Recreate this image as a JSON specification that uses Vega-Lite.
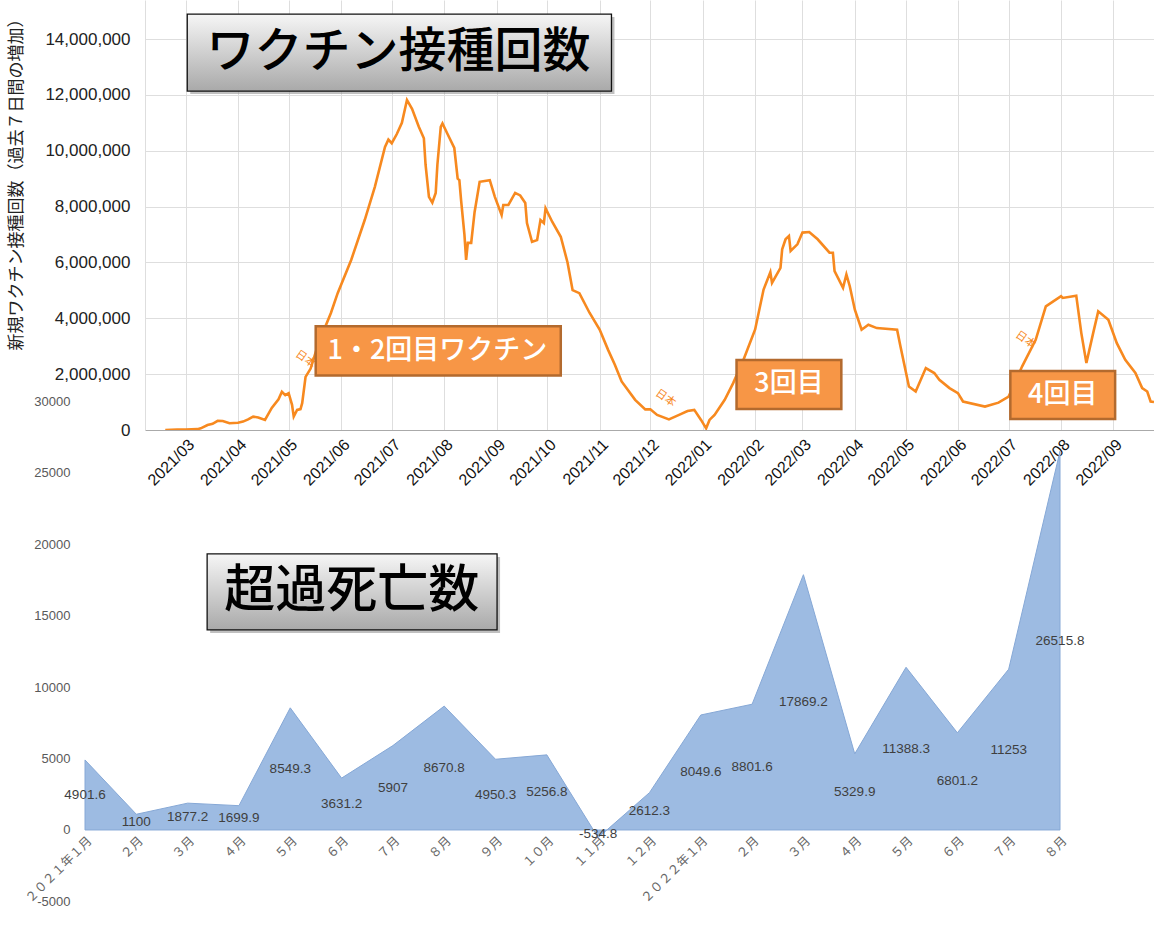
{
  "$schema": "https://vega.github.io/schema/vega-lite/v6.json",
  "background": "white",
  "padding": {"left": 7, "top": 0, "right": 0, "bottom": 0},
  "config": {
    "view": {"stroke": null},
    "font": "Liberation Sans, Noto Sans CJK JP, sans-serif"
  },
  "datasets": {
    "vaccine": [
      {"date": "2021-02-17", "doses": 0},
      {"date": "2021-02-24", "doses": 20000},
      {"date": "2021-03-01", "doses": 20000},
      {"date": "2021-03-08", "doses": 30000},
      {"date": "2021-03-10", "doses": 60000},
      {"date": "2021-03-14", "doses": 180000},
      {"date": "2021-03-17", "doses": 220000},
      {"date": "2021-03-20", "doses": 330000},
      {"date": "2021-03-23", "doses": 320000},
      {"date": "2021-03-27", "doses": 240000},
      {"date": "2021-04-01", "doses": 260000},
      {"date": "2021-04-04", "doses": 300000},
      {"date": "2021-04-07", "doses": 380000},
      {"date": "2021-04-10", "doses": 480000},
      {"date": "2021-04-13", "doses": 450000},
      {"date": "2021-04-17", "doses": 360000},
      {"date": "2021-04-21", "doses": 790000},
      {"date": "2021-04-25", "doses": 1100000},
      {"date": "2021-04-27", "doses": 1370000},
      {"date": "2021-04-29", "doses": 1250000},
      {"date": "2021-05-01", "doses": 1320000},
      {"date": "2021-05-03", "doses": 900000},
      {"date": "2021-05-04", "doses": 480000},
      {"date": "2021-05-06", "doses": 720000},
      {"date": "2021-05-08", "doses": 750000},
      {"date": "2021-05-09", "doses": 960000},
      {"date": "2021-05-11", "doses": 1900000},
      {"date": "2021-05-14", "doses": 2200000},
      {"date": "2021-05-18", "doses": 2980000},
      {"date": "2021-05-22", "doses": 3600000},
      {"date": "2021-05-26", "doses": 4190000},
      {"date": "2021-05-30", "doses": 4900000},
      {"date": "2021-06-07", "doses": 6090000},
      {"date": "2021-06-15", "doses": 7520000},
      {"date": "2021-06-21", "doses": 8710000},
      {"date": "2021-06-27", "doses": 10140000},
      {"date": "2021-06-29", "doses": 10400000},
      {"date": "2021-07-01", "doses": 10270000},
      {"date": "2021-07-04", "doses": 10600000},
      {"date": "2021-07-07", "doses": 11000000},
      {"date": "2021-07-10", "doses": 11820000},
      {"date": "2021-07-13", "doses": 11500000},
      {"date": "2021-07-17", "doses": 10860000},
      {"date": "2021-07-20", "doses": 10450000},
      {"date": "2021-07-21", "doses": 9500000},
      {"date": "2021-07-23", "doses": 8350000},
      {"date": "2021-07-25", "doses": 8140000},
      {"date": "2021-07-27", "doses": 8490000},
      {"date": "2021-07-28", "doses": 9500000},
      {"date": "2021-07-30", "doses": 10860000},
      {"date": "2021-07-31", "doses": 10980000},
      {"date": "2021-08-03", "doses": 10600000},
      {"date": "2021-08-07", "doses": 10100000},
      {"date": "2021-08-09", "doses": 9000000},
      {"date": "2021-08-10", "doses": 8950000},
      {"date": "2021-08-11", "doses": 8240000},
      {"date": "2021-08-13", "doses": 7000000},
      {"date": "2021-08-14", "doses": 6090000},
      {"date": "2021-08-15", "doses": 6700000},
      {"date": "2021-08-17", "doses": 6700000},
      {"date": "2021-08-19", "doses": 7800000},
      {"date": "2021-08-22", "doses": 8890000},
      {"date": "2021-08-25", "doses": 8920000},
      {"date": "2021-08-28", "doses": 8950000},
      {"date": "2021-08-31", "doses": 8350000},
      {"date": "2021-09-04", "doses": 7700000},
      {"date": "2021-09-05", "doses": 8060000},
      {"date": "2021-09-08", "doses": 8060000},
      {"date": "2021-09-12", "doses": 8490000},
      {"date": "2021-09-15", "doses": 8400000},
      {"date": "2021-09-18", "doses": 8130000},
      {"date": "2021-09-19", "doses": 7410000},
      {"date": "2021-09-22", "doses": 6740000},
      {"date": "2021-09-25", "doses": 6800000},
      {"date": "2021-09-27", "doses": 7520000},
      {"date": "2021-09-29", "doses": 7410000},
      {"date": "2021-09-30", "doses": 7940000},
      {"date": "2021-10-04", "doses": 7450000},
      {"date": "2021-10-09", "doses": 6920000},
      {"date": "2021-10-13", "doses": 6000000},
      {"date": "2021-10-16", "doses": 5010000},
      {"date": "2021-10-20", "doses": 4900000},
      {"date": "2021-10-26", "doses": 4200000},
      {"date": "2021-11-01", "doses": 3600000},
      {"date": "2021-11-06", "doses": 2870000},
      {"date": "2021-11-10", "doses": 2340000},
      {"date": "2021-11-14", "doses": 1740000},
      {"date": "2021-11-22", "doses": 1080000},
      {"date": "2021-11-28", "doses": 740000},
      {"date": "2021-12-01", "doses": 740000},
      {"date": "2021-12-05", "doses": 540000},
      {"date": "2021-12-12", "doses": 380000},
      {"date": "2021-12-18", "doses": 540000},
      {"date": "2021-12-23", "doses": 680000},
      {"date": "2021-12-27", "doses": 720000},
      {"date": "2021-12-31", "doses": 360000},
      {"date": "2022-01-03", "doses": 60000},
      {"date": "2022-01-05", "doses": 360000},
      {"date": "2022-01-08", "doses": 540000},
      {"date": "2022-01-14", "doses": 1080000},
      {"date": "2022-01-19", "doses": 1680000},
      {"date": "2022-01-25", "doses": 2500000},
      {"date": "2022-02-01", "doses": 3600000},
      {"date": "2022-02-06", "doses": 5030000},
      {"date": "2022-02-10", "doses": 5650000},
      {"date": "2022-02-11", "doses": 5270000},
      {"date": "2022-02-16", "doses": 5810000},
      {"date": "2022-02-17", "doses": 6470000},
      {"date": "2022-02-19", "doses": 6830000},
      {"date": "2022-02-21", "doses": 6950000},
      {"date": "2022-02-22", "doses": 6410000},
      {"date": "2022-02-26", "doses": 6650000},
      {"date": "2022-03-01", "doses": 7070000},
      {"date": "2022-03-05", "doses": 7090000},
      {"date": "2022-03-10", "doses": 6830000},
      {"date": "2022-03-17", "doses": 6350000},
      {"date": "2022-03-19", "doses": 6350000},
      {"date": "2022-03-20", "doses": 5690000},
      {"date": "2022-03-25", "doses": 5090000},
      {"date": "2022-03-27", "doses": 5570000},
      {"date": "2022-03-29", "doses": 5150000},
      {"date": "2022-04-01", "doses": 4310000},
      {"date": "2022-04-05", "doses": 3590000},
      {"date": "2022-04-09", "doses": 3770000},
      {"date": "2022-04-14", "doses": 3650000},
      {"date": "2022-04-26", "doses": 3590000},
      {"date": "2022-04-28", "doses": 2990000},
      {"date": "2022-05-03", "doses": 1560000},
      {"date": "2022-05-07", "doses": 1380000},
      {"date": "2022-05-13", "doses": 2220000},
      {"date": "2022-05-18", "doses": 2040000},
      {"date": "2022-05-21", "doses": 1800000},
      {"date": "2022-05-27", "doses": 1500000},
      {"date": "2022-06-01", "doses": 1320000},
      {"date": "2022-06-04", "doses": 1020000},
      {"date": "2022-06-17", "doses": 840000},
      {"date": "2022-06-25", "doses": 980000},
      {"date": "2022-07-01", "doses": 1200000},
      {"date": "2022-07-09", "doses": 2280000},
      {"date": "2022-07-17", "doses": 3230000},
      {"date": "2022-07-23", "doses": 4430000},
      {"date": "2022-08-01", "doses": 4790000},
      {"date": "2022-08-02", "doses": 4730000},
      {"date": "2022-08-10", "doses": 4810000},
      {"date": "2022-08-13", "doses": 3470000},
      {"date": "2022-08-16", "doses": 2400000},
      {"date": "2022-08-20", "doses": 3470000},
      {"date": "2022-08-23", "doses": 4250000},
      {"date": "2022-08-29", "doses": 3950000},
      {"date": "2022-09-03", "doses": 3110000},
      {"date": "2022-09-08", "doses": 2510000},
      {"date": "2022-09-14", "doses": 2040000},
      {"date": "2022-09-18", "doses": 1500000},
      {"date": "2022-09-21", "doses": 1380000},
      {"date": "2022-09-23", "doses": 1020000},
      {"date": "2022-09-25", "doses": 1000000}
    ],
    "countryTags": [
      {"label": "日本", "date": "2021-05-11", "doses": 2530000},
      {"label": "日本", "date": "2021-12-10", "doses": 1135000},
      {"label": "日本", "date": "2022-07-11", "doses": 3220000}
    ],
    "doseNotes": [
      {"label": "1・2回目ワクチン", "start": "2021-05-17", "end": "2021-10-09", "lo": 1950000, "hi": 3720000, "at": "2021-07-28", "mid": 2840000},
      {"label": "3回目", "start": "2022-01-21", "end": "2022-03-24", "lo": 750000, "hi": 2510000, "at": "2022-02-21", "mid": 1630000},
      {"label": "4回目", "start": "2022-07-02", "end": "2022-09-02", "lo": 390000, "hi": 2110000, "at": "2022-08-02", "mid": 1250000}
    ],
    "topTitle": [
      {"label": "ワクチン接種回数", "start": "2021-03-02", "end": "2021-11-08", "lo": 12138000, "hi": 14895000, "at": "2021-07-05", "mid": 13517000}
    ],
    "excess": [
      {"month": "2021-01", "deaths": 4901.6},
      {"month": "2021-02", "deaths": 1100},
      {"month": "2021-03", "deaths": 1877.2},
      {"month": "2021-04", "deaths": 1699.9},
      {"month": "2021-05", "deaths": 8549.3},
      {"month": "2021-06", "deaths": 3631.2},
      {"month": "2021-07", "deaths": 5907},
      {"month": "2021-08", "deaths": 8670.8},
      {"month": "2021-09", "deaths": 4950.3},
      {"month": "2021-10", "deaths": 5256.8},
      {"month": "2021-11", "deaths": -534.8},
      {"month": "2021-12", "deaths": 2612.3},
      {"month": "2022-01", "deaths": 8049.6},
      {"month": "2022-02", "deaths": 8801.6},
      {"month": "2022-03", "deaths": 17869.2},
      {"month": "2022-04", "deaths": 5329.9},
      {"month": "2022-05", "deaths": 11388.3},
      {"month": "2022-06", "deaths": 6801.2},
      {"month": "2022-07", "deaths": 11253},
      {"month": "2022-08", "deaths": 26515.8}
    ],
    "bottomTitle": [
      {"label": "超過死亡数", "x1": 2.38, "x2": 8.03, "lo": 14000, "hi": 19320, "xm": 5.2, "ym": 16660}
    ]
  },
  "bounds": "flush",
  "spacing": 0,
  "vconcat": [
    {
      "width": 1009,
      "height": 430,
      "layer": [
        {
          "data": {"name": "vaccine"},
          "mark": {"type": "line", "color": "#f7891f", "strokeWidth": 2.6, "clip": true},
          "encoding": {
            "x": {
              "field": "date",
              "type": "temporal",
              "scale": {
                "type": "utc",
                "domain": [
                  {"year": 2021, "month": 2, "date": 5, "utc": true},
                  {"year": 2022, "month": 9, "date": 25, "utc": true}
                ]
              },
              "axis": {
                "title": null,
                "format": "%Y/%m",
                "tickCount": {"interval": "month", "step": 1},
                "labelOverlap": false,
                "labelAngle": -45,
                "labelAlign": "right",
                "labelBaseline": "top",
                "labelFontSize": 16,
                "labelColor": "#111",
                "labelPadding": 6,
                "ticks": false,
                "domainColor": "#aaaaaa",
                "gridColor": "#dedede"
              }
            },
            "y": {
              "field": "doses",
              "type": "quantitative",
              "scale": {"domain": [0, 15400000], "nice": false},
              "axis": {
                "title": "新規ワクチン接種回数（過去７日間の増加）",
                "titleFont": "Noto Sans CJK JP",
                "titleFontSize": 17,
                "titleFontWeight": "normal",
                "titleColor": "#222",
                "titlePadding": 19,
                "titleY": 180,
                "values": [0, 2000000, 4000000, 6000000, 8000000, 10000000, 12000000, 14000000],
                "format": ",d",
                "labelFontSize": 17,
                "labelColor": "#222",
                "labelPadding": 15,
                "ticks": false,
                "domainColor": "#dedede",
                "gridColor": "#dedede"
              }
            }
          }
        },
        {
          "data": {"name": "countryTags"},
          "mark": {"type": "text", "angle": 35, "fontSize": 11, "color": "#f7891f", "font": "Noto Sans CJK JP"},
          "encoding": {
            "x": {"field": "date", "type": "temporal"},
            "y": {"field": "doses", "type": "quantitative"},
            "text": {"field": "label"}
          }
        },
        {
          "data": {"name": "topTitle"},
          "mark": {"type": "rect", "fill": "#8c8c8c", "opacity": 0.55, "xOffset": 3, "x2Offset": 3, "yOffset": 3, "y2Offset": 3},
          "encoding": {
            "x": {"field": "start", "type": "temporal"},
            "x2": {"field": "end"},
            "y": {"field": "hi", "type": "quantitative"},
            "y2": {"field": "lo"}
          }
        },
        {
          "data": {"name": "topTitle"},
          "mark": {
            "type": "rect",
            "stroke": "#111",
            "strokeWidth": 1.3,
            "fill": {
              "gradient": "linear",
              "x1": 0, "y1": 0, "x2": 0, "y2": 1,
              "stops": [
                {"offset": 0, "color": "#f6f6f6"},
                {"offset": 1, "color": "#a9a9a9"}
              ]
            }
          },
          "encoding": {
            "x": {"field": "start", "type": "temporal"},
            "x2": {"field": "end"},
            "y": {"field": "hi", "type": "quantitative"},
            "y2": {"field": "lo"}
          }
        },
        {
          "data": {"name": "topTitle"},
          "mark": {"type": "text", "fontSize": 48, "font": "Noto Sans CJK JP", "fontWeight": 500, "color": "#000", "baseline": "middle", "align": "center"},
          "encoding": {
            "x": {"field": "at", "type": "temporal"},
            "y": {"field": "mid", "type": "quantitative"},
            "text": {"field": "label"}
          }
        },
        {
          "data": {"name": "doseNotes"},
          "mark": {"type": "rect", "fill": "#f79646", "stroke": "#b36a2e", "strokeWidth": 2.5},
          "encoding": {
            "x": {"field": "start", "type": "temporal"},
            "x2": {"field": "end"},
            "y": {"field": "hi", "type": "quantitative"},
            "y2": {"field": "lo"}
          }
        },
        {
          "data": {"name": "doseNotes"},
          "mark": {"type": "text", "fontSize": 27, "font": "Noto Sans CJK JP", "fontWeight": 500, "color": "white", "baseline": "middle", "align": "center"},
          "encoding": {
            "x": {"field": "at", "type": "temporal"},
            "y": {"field": "mid", "type": "quantitative"},
            "text": {"field": "label"}
          }
        },
        {
          "mark": {"type": "rule", "color": "#9a9a9a", "strokeWidth": 1},
          "encoding": {
            "x": {"datum": {"year": 2021, "month": 3, "date": 1, "utc": true}, "type": "temporal"},
            "y": {"datum": 0, "type": "quantitative"},
            "y2": {"datum": 15400000}
          }
        }
      ]
    },
    {
      "width": 975,
      "height": 471.4,
      "layer": [
        {
          "data": {"name": "excess"},
          "mark": {"type": "area", "fill": "#9dbbe2", "stroke": "#86a8d6", "strokeWidth": 1},
          "encoding": {
            "x": {
              "field": "month",
              "type": "nominal",
              "scale": {"type": "point", "range": [-60, 915], "padding": 0},
              "axis": {
                "title": null,
                "labelExpr": "(slice(datum.value,5)=='01' ? (slice(datum.value,0,4)=='2021' ? '２０２１年' : '２０２２年') : '') + ['','１','２','３','４','５','６','７','８','９','１０','１１','１２'][toNumber(slice(datum.value,5))] + '月'",
                "labelOverlap": false,
                "labelAngle": -45,
                "labelAlign": "right",
                "labelBaseline": "top",
                "labelFont": "Noto Sans CJK JP",
                "labelFontSize": 12.5,
                "labelColor": "#666666",
                "labelPadding": 4,
                "offset": -71.4,
                "domain": false,
                "ticks": false,
                "grid": false
              }
            },
            "y": {
              "field": "deaths",
              "type": "quantitative",
              "scale": {"domain": [-5000, 30000], "nice": false, "range": [471.4, -28.6]},
              "axis": {
                "title": null,
                "values": [-5000, 0, 5000, 10000, 15000, 20000, 25000, 30000],
                "labelExpr": "'' + datum.value",
                "labelFontSize": 13,
                "labelColor": "#595959",
                "labelPadding": 15,
                "offset": 60,
                "domain": false,
                "ticks": false,
                "grid": false
              }
            }
          }
        },
        {
          "data": {"name": "excess"},
          "mark": {"type": "text", "fontSize": 13.5, "color": "#3f3f3f"},
          "encoding": {
            "x": {
              "field": "month",
              "type": "nominal",
              "scale": {"type": "point", "range": [-60, 915], "padding": 0},
              "axis": null
            },
            "y": {"field": "deaths", "type": "quantitative", "stack": "zero", "bandPosition": 0.5},
            "text": {"field": "deaths", "type": "nominal"}
          }
        },
        {
          "data": {"name": "bottomTitle"},
          "mark": {"type": "rect", "fill": "#8c8c8c", "opacity": 0.55, "xOffset": 3, "x2Offset": 3, "yOffset": 3, "y2Offset": 3},
          "encoding": {
            "x": {"field": "x1", "type": "quantitative", "scale": {"domain": [0, 19], "range": [-60, 915]}, "axis": null},
            "x2": {"field": "x2"},
            "y": {"field": "hi", "type": "quantitative"},
            "y2": {"field": "lo"}
          }
        },
        {
          "data": {"name": "bottomTitle"},
          "mark": {
            "type": "rect",
            "stroke": "#111",
            "strokeWidth": 1.3,
            "fill": {
              "gradient": "linear",
              "x1": 0, "y1": 0, "x2": 0, "y2": 1,
              "stops": [
                {"offset": 0, "color": "#f6f6f6"},
                {"offset": 1, "color": "#a9a9a9"}
              ]
            }
          },
          "encoding": {
            "x": {"field": "x1", "type": "quantitative", "scale": {"domain": [0, 19], "range": [-60, 915]}, "axis": null},
            "x2": {"field": "x2"},
            "y": {"field": "hi", "type": "quantitative"},
            "y2": {"field": "lo"}
          }
        },
        {
          "data": {"name": "bottomTitle"},
          "mark": {"type": "text", "fontSize": 51, "font": "Noto Sans CJK JP", "fontWeight": 500, "color": "#000", "baseline": "middle", "align": "center"},
          "encoding": {
            "x": {"field": "xm", "type": "quantitative", "scale": {"domain": [0, 19], "range": [-60, 915]}, "axis": null},
            "y": {"field": "ym", "type": "quantitative"},
            "text": {"field": "label"}
          }
        }
      ],
      "resolve": {"scale": {"x": "independent"}}
    }
  ]
}
